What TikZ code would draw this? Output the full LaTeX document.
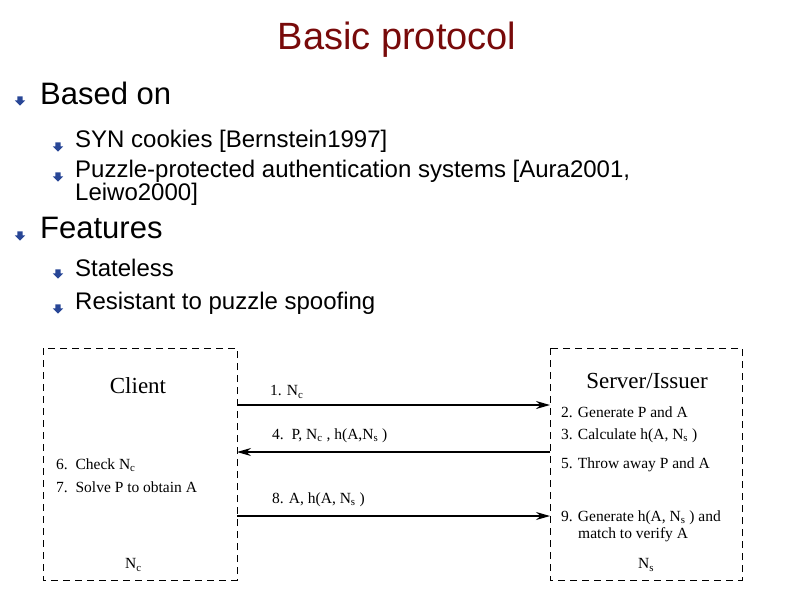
\documentclass[tikz,border=0pt]{standalone}
\usepackage{fontspec}
\setmainfont{Liberation Sans}
\newfontfamily\serifx{Liberation Serif}
\usetikzlibrary{arrows.meta}
\definecolor{titlered}{RGB}{120,10,10}
\definecolor{bulblue}{RGB}{40,70,150}
\newcommand{\sbs}[1]{\textsubscript{#1}}
\tikzset{
 bul/.pic={\fill[bulblue,scale=1.3] (-2,-2) -- (2,-2) -- (2,1) -- (4,1) -- (0,5) -- (-4,1) -- (-2,1) -- cycle;},
 lone/.style={anchor=west,font=\fontsize{31}{33}\selectfont,inner sep=0},
 ltwo/.style={anchor=west,font=\fontsize{24}{22}\selectfont,inner sep=0,align=left},
 box/.style={draw,dashed,line width=0.8pt,dash pattern=on 7pt off 5pt},
 dt/.style={anchor=west,font=\serifx\fontsize{15.5}{17}\selectfont,inner sep=0,align=left},
 msg/.style={-{Stealth[length=14pt,width=8pt]},line width=1.6pt},
}
\begin{document}
\begin{tikzpicture}[x=1pt,y=-1pt]
\useasboundingbox (0,0) rectangle (794,595);
\node[font=\fontsize{38}{40}\selectfont,text=titlered] (title) at (397,40) {Basic protocol};
\pic at (20,99) {bul};
\node[lone] (b1) at (40,93) {Based on};
\pic at (58,145) {bul};
\node[ltwo] (s1) at (75,141) {SYN cookies [Bernstein1997]};
\pic at (58,175) {bul};
\node[ltwo,anchor=north west] (s2) at (75,160) {Puzzle-protected authentication systems [Aura2001,\\[0pt]Leiwo2000]};
\pic at (20,234) {bul};
\node[lone] (b2) at (40,228) {Features};
\pic at (58,272) {bul};
\node[ltwo] (s3) at (75,268) {Stateless};
\pic at (58,307) {bul};
\node[ltwo] (s4) at (75,303) {Resistant to puzzle spoofing};
\draw[box] (43,348) rectangle (237,580);
\draw[box] (550,348) rectangle (742,580);
\coordinate (c1) at (237,405); \coordinate (s1e) at (550,405);
\coordinate (c4) at (237,452); \coordinate (s4e) at (550,452);
\coordinate (c8) at (237,516); \coordinate (s8e) at (550,516);
\draw[msg] (c1) -- (s1e);
\draw[msg,line width=1.1pt] (s4e) -- (c4);
\draw[msg,line width=1.1pt] (c8) -- (s8e);
\node[font=\serifx\fontsize{23}{24}\selectfont] (cl) at (138,386) {Client};
\node[font=\serifx\fontsize{23}{24}\selectfont] (sv) at (647,381) {Server/Issuer};
\node[dt] (m1) at (270,392) {1. N\sbs{c}};
\node[dt] (m4) at (272,436) {4.\ \ P,\ N\sbs{c} , h(A,N\sbs{s} )};
\node[dt] (m8) at (272,500) {8. A, h(A, N\sbs{s} )};
\node[dt] (t2) at (561,412) {2. Generate P and A};
\node[dt] (t3) at (561,436) {3. Calculate h(A,\ N\sbs{s} )};
\node[dt] (t5) at (561,465) {5. Throw away P and A};
\node[dt] (t9) at (561,518) {9. Generate h(A,\ N\sbs{s} ) and};
\node[dt] (t9b) at (578,535) {match to verify A};
\node[dt] (ns) at (638,565) {N\sbs{s}};
\node[dt] (t6) at (56,465) {6.\ \ Check\ N\sbs{c}};
\node[dt] (t7) at (56,487) {7.\ \ Solve P to obtain A};
\node[dt] (nc) at (125,565) {N\sbs{c}};
\end{tikzpicture}
\end{document}
